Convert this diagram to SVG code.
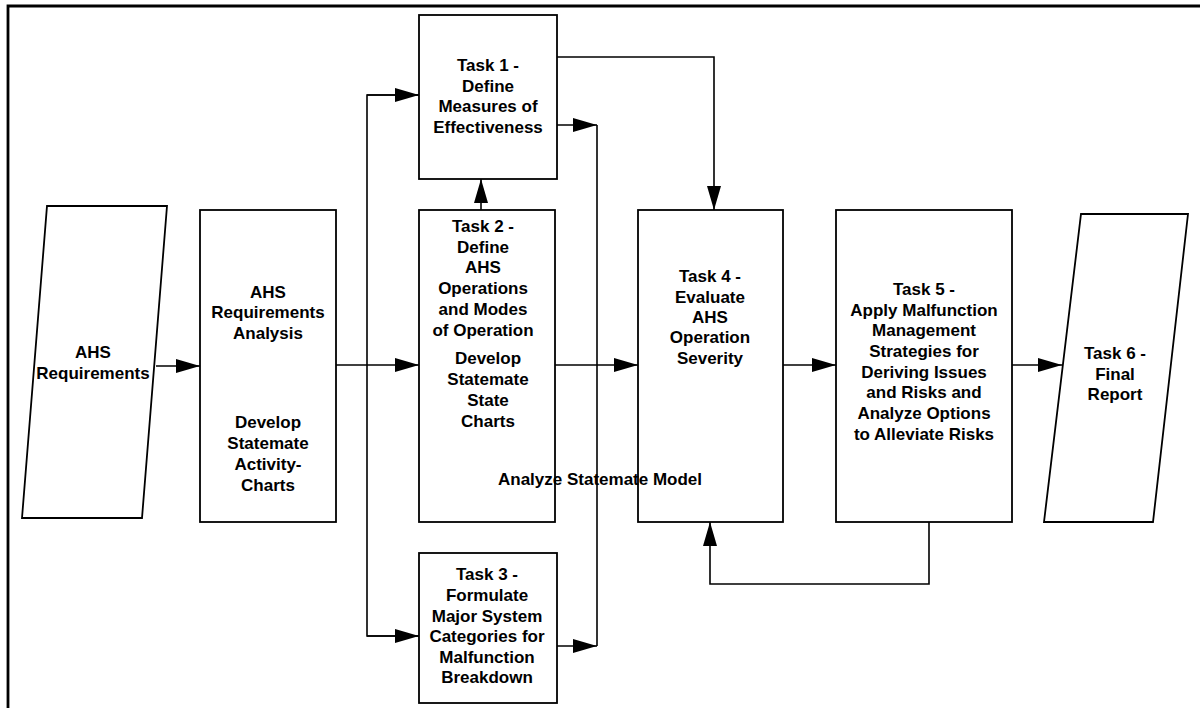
<svg xmlns="http://www.w3.org/2000/svg" width="1200" height="708" viewBox="0 0 1200 708">
<style>
.box{fill:#fff;stroke:#000;stroke-width:1.8}
.ln{fill:none;stroke:#000;stroke-width:1.6}
.t{font-family:"Liberation Sans",Arial,sans-serif;font-weight:bold;font-size:17px;fill:#000;text-anchor:middle}
</style>
<defs>
<marker id="ah" markerUnits="userSpaceOnUse" markerWidth="26" markerHeight="16" viewBox="0 0 26 16" refX="25" refY="8" orient="auto">
<path d="M1,1 L25,8 L1,15 Z" fill="#000"/>
</marker>
</defs>
<rect width="1200" height="708" fill="#fff"/>
<path d="M8,708 V6 H1200" fill="none" stroke="#000" stroke-width="2.8"/>
<g id="connectors">
<line class="ln" x1="156" y1="366" x2="200" y2="366" marker-end="url(#ah)"/>
<line class="ln" x1="336" y1="365" x2="419" y2="365" marker-end="url(#ah)"/>
<path class="ln" d="M419,95 H367 V636 H419" />
<line class="ln" x1="367" y1="95" x2="419" y2="95" marker-end="url(#ah)"/>
<line class="ln" x1="367" y1="636" x2="419" y2="636" marker-end="url(#ah)"/>
<line class="ln" x1="481" y1="210" x2="481" y2="179" marker-end="url(#ah)"/>
<line class="ln" x1="557" y1="125" x2="597" y2="125" marker-end="url(#ah)"/>
<line class="ln" x1="557" y1="646" x2="597" y2="646" marker-end="url(#ah)"/>
<line class="ln" x1="597" y1="125" x2="597" y2="646"/>
<path class="ln" d="M557,57 H714 V210" marker-end="url(#ah)"/>
<line class="ln" x1="555" y1="365" x2="638" y2="365" marker-end="url(#ah)"/>
<line class="ln" x1="783" y1="365" x2="836" y2="365" marker-end="url(#ah)"/>
<line class="ln" x1="1012" y1="365" x2="1062" y2="365" marker-end="url(#ah)"/>
<path class="ln" d="M929,522 V584 H710 V522" marker-end="url(#ah)"/>
</g>
<g id="ahs-requirements">
<polygon class="box" points="47,206 167,206 142,518 22,518"/>
<text class="t" x="93" y="358">AHS</text>
<text class="t" x="93" y="379">Requirements</text>
</g>
<g id="ahs-req-analysis">
<rect class="box" x="200" y="210" width="136" height="312"/>
<text class="t" x="268" y="298">AHS</text>
<text class="t" x="268" y="318">Requirements</text>
<text class="t" x="268" y="339">Analysis</text>
<text class="t" x="268" y="428">Develop</text>
<text class="t" x="268" y="449">Statemate</text>
<text class="t" x="268" y="470">Activity-</text>
<text class="t" x="268" y="491">Charts</text>
</g>
<g id="task1">
<rect class="box" x="419" y="15" width="138" height="164"/>
<text class="t" x="488" y="71">Task 1 -</text>
<text class="t" x="488" y="92">Define</text>
<text class="t" x="488" y="112">Measures of</text>
<text class="t" x="488" y="133">Effectiveness</text>
</g>
<g id="task2">
<rect class="box" x="419" y="210" width="136" height="312"/>
<text class="t" x="483" y="232">Task 2 -</text>
<text class="t" x="483" y="253">Define</text>
<text class="t" x="483" y="273">AHS</text>
<text class="t" x="483" y="294">Operations</text>
<text class="t" x="483" y="315">and Modes</text>
<text class="t" x="483" y="336">of Operation</text>
<text class="t" x="488" y="364">Develop</text>
<text class="t" x="488" y="385">Statemate</text>
<text class="t" x="488" y="406">State</text>
<text class="t" x="488" y="427">Charts</text>
</g>
<g id="task3">
<rect class="box" x="419" y="553" width="138" height="150"/>
<text class="t" x="487" y="580">Task 3 -</text>
<text class="t" x="487" y="601">Formulate</text>
<text class="t" x="487" y="622">Major System</text>
<text class="t" x="487" y="642">Categories for</text>
<text class="t" x="487" y="663">Malfunction</text>
<text class="t" x="487" y="683">Breakdown</text>
</g>
<g id="task4">
<rect class="box" x="638" y="210" width="145" height="312"/>
<text class="t" x="710" y="282">Task 4 -</text>
<text class="t" x="710" y="303">Evaluate</text>
<text class="t" x="710" y="323">AHS</text>
<text class="t" x="710" y="343">Operation</text>
<text class="t" x="710" y="364">Severity</text>
</g>
<g id="analyze-label">
<text class="t" x="600" y="485">Analyze Statemate Model</text>
</g>
<g id="task5">
<rect class="box" x="836" y="210" width="176" height="312"/>
<text class="t" x="924" y="295">Task 5 -</text>
<text class="t" x="924" y="316">Apply Malfunction</text>
<text class="t" x="924" y="336">Management</text>
<text class="t" x="924" y="357">Strategies for</text>
<text class="t" x="924" y="378">Deriving Issues</text>
<text class="t" x="924" y="398">and Risks and</text>
<text class="t" x="924" y="419">Analyze Options</text>
<text class="t" x="924" y="440">to Alleviate Risks</text>
</g>
<g id="task6">
<polygon class="box" points="1081,214 1188,214 1153,522 1044,522"/>
<text class="t" x="1115" y="359">Task 6 -</text>
<text class="t" x="1115" y="380">Final</text>
<text class="t" x="1115" y="400">Report</text>
</g>
</svg>
